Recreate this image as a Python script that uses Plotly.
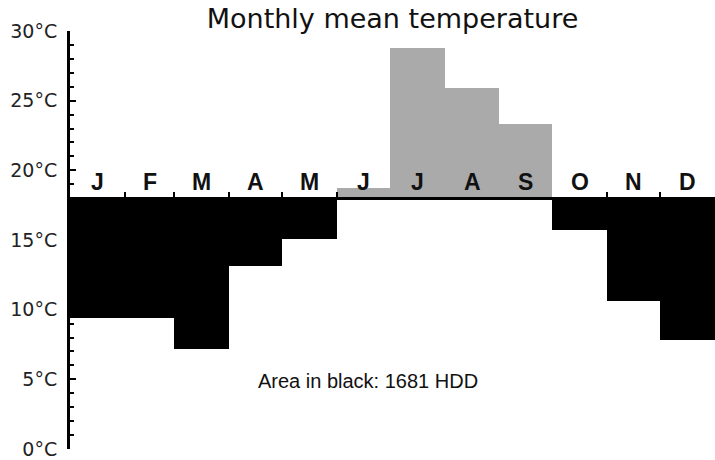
import plotly.graph_objects as go
import numpy as np

months = ["J", "F", "M", "A", "M", "J", "J", "A", "S", "O", "N", "D"]
days = [31, 28, 31, 30, 31, 30, 31, 31, 30, 31, 30, 31]
temps = [9.4, 9.4, 7.2, 13.1, 15.1, 18.7, 28.8, 25.9, 23.3, 15.7, 10.6, 7.8]
base_temp = 18
y_ticks = [0, 5, 10, 15, 20, 25, 30]
y_tick_text = ["0°C", "5°C", "10°C", "15°C", "20°C", "25°C", "30°C"]
hdd_label = "Area in black: 1681 HDD"
title_text = "Monthly mean temperature"

edges = np.concatenate([[0], np.cumsum(days)])
centers = (edges[:-1] + edges[1:]) / 2
colors = ["#000000" if t < base_temp else "#aaaaaa" for t in temps]
boundary_ticks = [float(edges[i + 1]) for i in range(len(temps) - 1) if temps[i] < base_temp]

fig = go.Figure()
fig.add_trace(go.Bar(
    x=centers,
    y=[t - base_temp for t in temps],
    base=base_temp,
    width=days,
    marker=dict(color=colors, line=dict(width=0)),
    showlegend=False,
    hoverinfo="skip",
))

for m, c in zip(months, centers):
    fig.add_annotation(x=c, y=base_temp + 1.15, text="<b>" + m + "</b>", showarrow=False,
                       font=dict(family="Liberation Sans", size=23, color="#111111"),
                       xref="x", yref="y", yanchor="middle")

fig.add_annotation(x=168.5, y=4.9, text=hdd_label, showarrow=False,
                   font=dict(family="Liberation Sans", size=20, color="#111111"),
                   xref="x", yref="y")

fig.update_layout(
    width=715, height=460,
    margin=dict(l=70, r=0, t=31, b=11, autoexpand=False),
    paper_bgcolor="white", plot_bgcolor="white",
    font=dict(family="DejaVu Sans"),
    title=dict(text=title_text, x=0.5, xref="paper", xanchor="center",
               y=0.96, yref="container", yanchor="middle",
               font=dict(family="DejaVu Sans", size=27, color="#111111")),
    bargap=0,
)
fig.update_xaxes(
    range=[0, 365], anchor="free", position=base_temp / 30,
    showline=True, linewidth=3, linecolor="black",
    tickvals=boundary_ticks, ticks="inside", ticklen=5, tickwidth=2, tickcolor="black",
    showticklabels=False, showgrid=False, zeroline=False, automargin=False,
)
fig.update_yaxes(
    range=[0, 30], tickvals=y_ticks, ticktext=y_tick_text,
    showline=True, linewidth=3, linecolor="black",
    ticks="inside", ticklen=6, tickwidth=2, tickcolor="black",
    minor=dict(dtick=1, ticks="inside", ticklen=4, tickwidth=2, tickcolor="black", showgrid=False),
    showgrid=False, zeroline=False, automargin=False,
    tickfont=dict(family="DejaVu Sans", size=19, color="#222222"),
    ticklabelstandoff=6, ticklabeloverflow="allow",
)

fig.write_html("out.html", config={"displayModeBar": False},
               post_script="document.body.style.margin='0';document.body.style.overflow='hidden';")
